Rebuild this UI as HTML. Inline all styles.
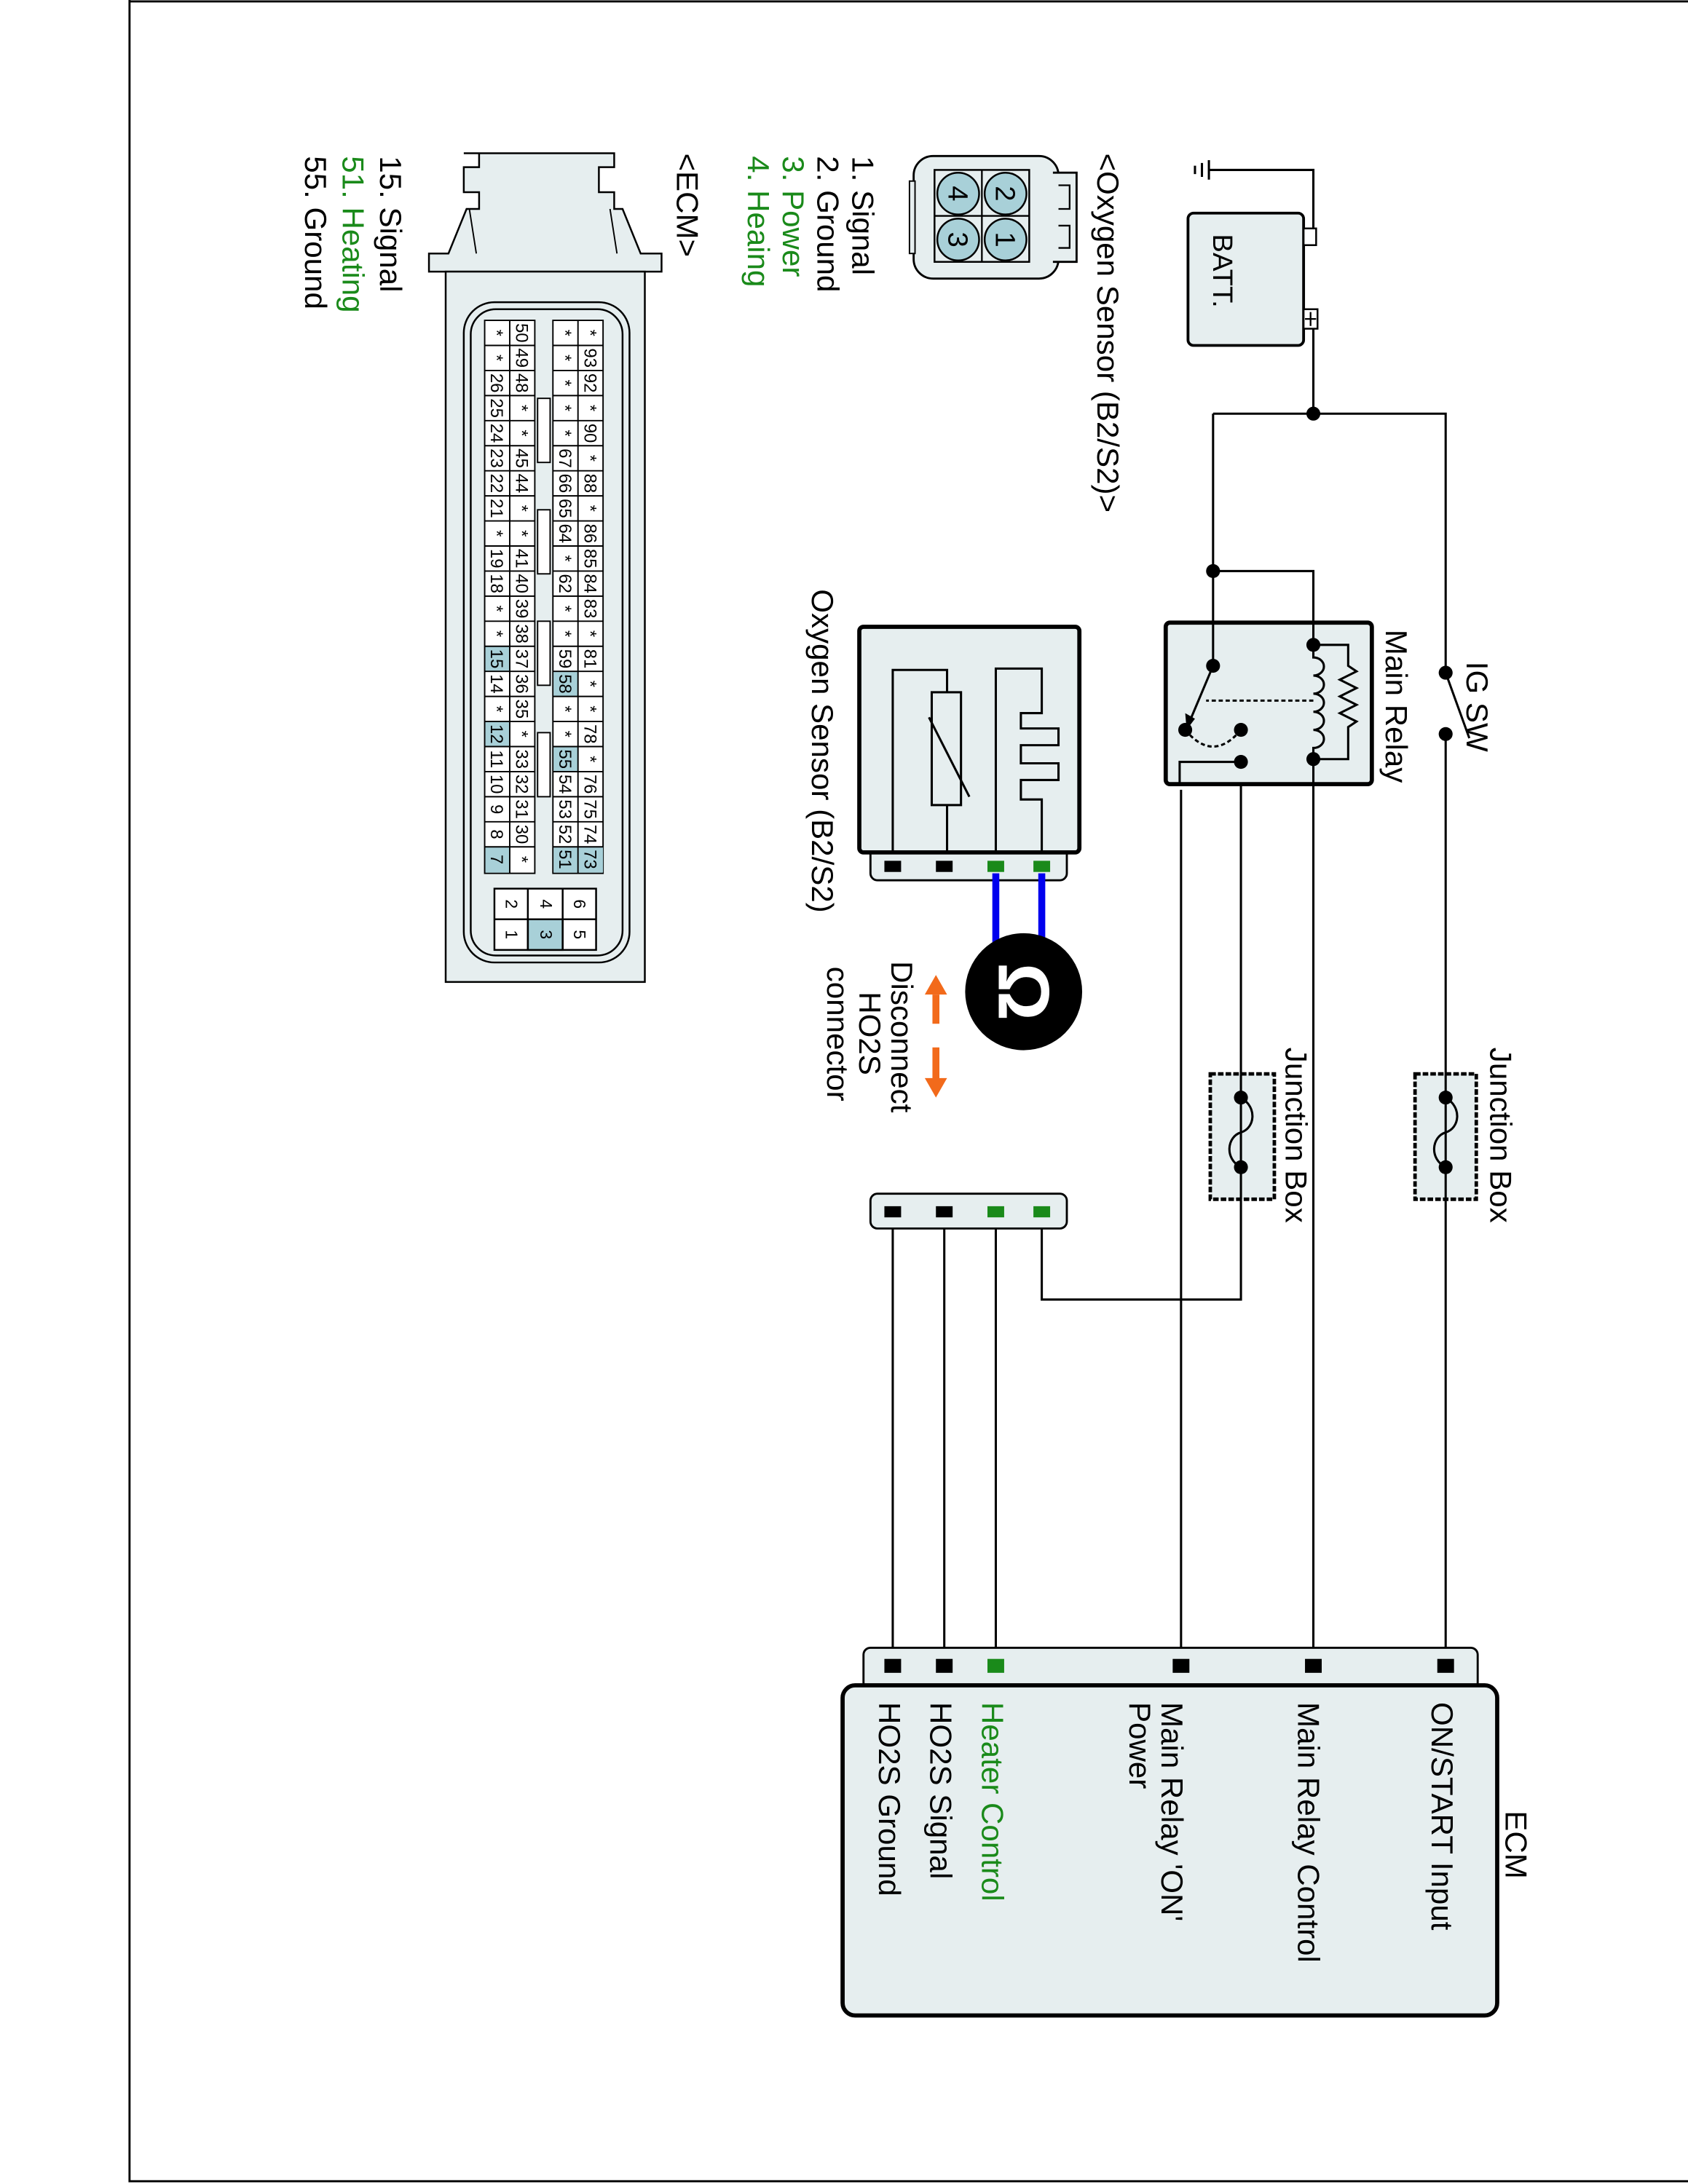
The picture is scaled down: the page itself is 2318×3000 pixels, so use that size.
<!DOCTYPE html>
<html><head><meta charset="utf-8"><style>
html,body{margin:0;padding:0;background:#fff}
svg{display:block}
text{font-family:"Liberation Sans",Arial,sans-serif}
</style></head><body>
<svg width="2318" height="3000" viewBox="0 0 1212 1568" preserveAspectRatio="none" xmlns="http://www.w3.org/2000/svg">
<rect x="0" y="0" width="1212" height="1568" fill="#fff"/>
<path d="M93,0 V1566 H1212 M93,1 H1212" fill="none" stroke="#000" stroke-width="1.5"/>

<g fill="none" stroke="#000" stroke-width="1.6">
<path d="M936,170 H943 V122 H868"/>
<path d="M868,115 V129 M863,117 V127 M858,119 V125"/>
<path d="M936,229 H943 V297"/>
<path d="M871,297 H1038 V483"/>
<path d="M1038,527 V1192"/>
<path d="M1038,483 L1055,530"/>
<path d="M871,297 V478"/>
<path d="M871,410 H943 V1192"/>
<path d="M848,567 V1192"/>
<path d="M891,524 V933 H748 V875"/>
<path d="M641,878 V1192 M678,878 V1192 M715,878 V1192"/>
</g>

<rect x="853" y="153" width="83" height="95" rx="4" fill="#e6eeef" stroke="#000" stroke-width="2"/>
<rect x="936" y="164" width="9" height="12" fill="#fff" stroke="#000" stroke-width="1.3"/>
<rect x="936" y="222" width="10" height="14" fill="#fff" stroke="#000" stroke-width="1.3"/>
<path d="M941,224 V234 M937,229 H945" stroke="#000" stroke-width="1.2"/>
<text transform="translate(871,168) rotate(90)" font-size="20">BATT.</text>
<circle cx="943" cy="297" r="5"/>
<circle cx="871" cy="410" r="5"/>

<circle cx="1038" cy="483" r="5"/><circle cx="1038" cy="527" r="5"/>
<text transform="translate(1053,475) rotate(90)" font-size="22">IG SW</text>

<rect x="837" y="447" width="148" height="116" rx="3" fill="#e6eeef" stroke="#000" stroke-width="3"/>
<text transform="translate(995,452) rotate(90)" font-size="22">Main Relay</text>
<g fill="none" stroke="#000" stroke-width="1.6">
<path d="M871,447 V478"/>
<path d="M943,447 V463"/>
<path d="M943,463 H968 V478 l6,4 l-12,6 l12,6 l-12,6 l12,6 l-12,6 l12,6 l-6,4 V545 H943"/>
<path d="M943,463 V472 a7,6 0 0 1 0,13 a7,6 0 0 1 0,13 a7,6 0 0 1 0,13 a7,6 0 0 1 0,13 a7,6 0 0 1 0,13 V545"/>
<path d="M943,503 H866" stroke-dasharray="3,2"/>
<path d="M851,524 Q871,548 891,524" stroke-dasharray="3,2"/>
<path d="M871,478 L855,516"/>
<path d="M891,547 H847 V563"/>
<path d="M943,545 V563"/>
</g>
<path d="M852,524 L851,512 L858,516 Z" fill="#000"/>
<circle cx="943" cy="463" r="5"/><circle cx="943" cy="545" r="5"/>
<circle cx="871" cy="478" r="5"/><circle cx="851" cy="524" r="5"/>
<circle cx="891" cy="524" r="5"/><circle cx="891" cy="547" r="5"/>

<rect x="1016" y="771" width="44" height="90" fill="#e6eeef" stroke="#000" stroke-width="2.5" stroke-dasharray="4,1.5"/>
<rect x="869" y="771" width="46" height="90" fill="#e6eeef" stroke="#000" stroke-width="2.5" stroke-dasharray="4,1.5"/>
<g fill="none" stroke="#000" stroke-width="1.6">
<path d="M1038,771 V861 M891,771 V861"/>
<path d="M1038,788 C1050,795 1048,810 1038,813 C1028,816 1026,832 1038,838"/>
<path d="M891,788 C903,795 901,810 891,813 C881,816 879,832 891,838"/>
</g>
<circle cx="1038" cy="788" r="5"/><circle cx="1038" cy="838" r="5"/>
<circle cx="891" cy="788" r="5"/><circle cx="891" cy="838" r="5"/>
<text transform="translate(1070,752) rotate(90)" font-size="22">Junction Box</text>
<text transform="translate(923,752) rotate(90)" font-size="22">Junction Box</text>

<rect x="625" y="605" width="141" height="27" rx="5" fill="#e6eeef" stroke="#000" stroke-width="1.5"/>
<rect x="617" y="450" width="158" height="162" rx="3" fill="#e6eeef" stroke="#000" stroke-width="3"/>
<g fill="none" stroke="#000" stroke-width="1.6">
<path d="M641,612 V481 H680 V497"/>
<rect x="669" y="497" width="21" height="81" fill="none"/>
<path d="M680,578 V612"/>
<path d="M667,515 L696,572"/>
<path d="M715,612 V480 H748 V512 H733 V523 H760 V535 H733 V548 H760 V560 H733 V574 H748 V612"/>
</g>
<rect x="635" y="618" width="12" height="8" fill="#000"/>
<rect x="672" y="618" width="12" height="8" fill="#000"/>
<rect x="709" y="618" width="12" height="8" fill="#1a8a1a"/>
<rect x="742" y="618" width="12" height="8" fill="#1a8a1a"/>
<path d="M715,627 V682 M748,627 V682" stroke="#0000ee" stroke-width="5"/>
<circle cx="735" cy="712" r="42" fill="#000"/>
<text transform="translate(717,712) rotate(90)" font-size="52" font-weight="bold" fill="#fff" text-anchor="middle">Ω</text>
<text transform="translate(583,423) rotate(90)" font-size="22">Oxygen Sensor (B2/S2)</text>
<path d="M672,714 V735 M672,752 V775" stroke="#f26a1b" stroke-width="5"/>
<path d="M672,700 L664,714 H680 Z M672,788 L664,774 H680 Z" fill="#f26a1b"/>
<text transform="translate(640,690) rotate(90)" font-size="22">Disconnect</text>
<text transform="translate(617,712) rotate(90)" font-size="22">HO2S</text>
<text transform="translate(594,694) rotate(90)" font-size="22">connector</text>

<rect x="625" y="857" width="141" height="25" rx="5" fill="#e6eeef" stroke="#000" stroke-width="1.5"/>
<rect x="635" y="866" width="12" height="8" fill="#000"/>
<rect x="672" y="866" width="12" height="8" fill="#000"/>
<rect x="709" y="866" width="12" height="8" fill="#1a8a1a"/>
<rect x="742" y="866" width="12" height="8" fill="#1a8a1a"/>

<rect x="620" y="1183" width="441" height="30" rx="5" fill="#e6eeef" stroke="#000" stroke-width="1.5"/>
<rect x="605" y="1210" width="470" height="237" rx="9" fill="#e6eeef" stroke="#000" stroke-width="3"/>
<rect x="1032" y="1191" width="12" height="10" fill="#000"/>
<rect x="937" y="1191" width="12" height="10" fill="#000"/>
<rect x="842" y="1191" width="12" height="10" fill="#000"/>
<rect x="709" y="1191" width="12" height="10" fill="#1a8a1a"/>
<rect x="672" y="1191" width="12" height="10" fill="#000"/>
<rect x="635" y="1191" width="12" height="10" fill="#000"/>
<text transform="translate(1081,1300) rotate(90)" font-size="22">ECM</text>
<text transform="translate(1028,1222) rotate(90)" font-size="22">ON/START Input</text>
<text transform="translate(932,1222) rotate(90)" font-size="22">Main Relay Control</text>
<text transform="translate(834,1222) rotate(90)" font-size="22">Main Relay 'ON'</text>
<text transform="translate(811,1222) rotate(90)" font-size="22">Power</text>
<text transform="translate(705,1222) rotate(90)" font-size="22" fill="#1a8a1a">Heater Control</text>
<text transform="translate(668,1222) rotate(90)" font-size="22">HO2S  Signal</text>
<text transform="translate(631,1222) rotate(90)" font-size="22">HO2S  Ground</text>

<text transform="translate(788,110) rotate(90)" font-size="22">&lt;Oxygen Sensor (B2/S2)&gt;</text>
<rect x="656" y="112" width="104" height="88" rx="14" fill="#e6eeef" stroke="#000" stroke-width="1.5"/>
<path d="M756,124 H773 V188 H756" fill="#e6eeef" stroke="#000" stroke-width="1.5"/>
<path d="M760,133 H768 V150 H760 M760,162 H768 V178 H760" fill="none" stroke="#000" stroke-width="1.2"/>
<rect x="653" y="130" width="4" height="52" fill="#e6eeef" stroke="#000" stroke-width="1"/>
<rect x="671" y="122" width="68" height="66" fill="#e6eeef" stroke="#000" stroke-width="1.3"/>
<path d="M705,122 V188 M671,155 H739" stroke="#000" stroke-width="1.2"/>
<g fill="#a8d0d8" stroke="#000" stroke-width="1.3">
<circle cx="722" cy="139" r="15"/><circle cx="722" cy="172" r="15"/>
<circle cx="688" cy="139" r="15"/><circle cx="688" cy="172" r="15"/>
</g>
<g font-size="20" text-anchor="middle">
<text transform="translate(715,139) rotate(90)">2</text>
<text transform="translate(715,172) rotate(90)">1</text>
<text transform="translate(681,139) rotate(90)">4</text>
<text transform="translate(681,172) rotate(90)">3</text>
</g>
<text transform="translate(612,112) rotate(90)" font-size="22">1. Signal</text>
<text transform="translate(587,112) rotate(90)" font-size="22">2. Ground</text>
<text transform="translate(562,112) rotate(90)" font-size="22" fill="#1a8a1a">3. Power</text>
<text transform="translate(537,112) rotate(90)" font-size="22" fill="#1a8a1a">4. Heaing</text>
<text transform="translate(486,110) rotate(90)" font-size="22">&lt;ECM&gt;</text>
<text transform="translate(273,112) rotate(90)" font-size="22">15. Signal</text>
<text transform="translate(246,112) rotate(90)" font-size="22" fill="#1a8a1a">51. Heating</text>
<text transform="translate(219,112) rotate(90)" font-size="22">55. Ground</text>

<g fill="#e6eeef" stroke="#000" stroke-width="1.3">
<path d="M333,110 H441 V120 H430 V138 H441 V150 H447 L460,182 H475 V195 H308 V182 H322 L335,150 H344 V138 H333 V120 H344 V110 Z" />
<rect x="320" y="195" width="143" height="510"/>
<rect x="333" y="217" width="119" height="474" rx="22"/>
<rect x="338" y="222" width="109" height="464" rx="18"/>
</g>
<path d="M337,150 L342,182 M438,150 L443,182" stroke="#000" stroke-width="1"/>
<g fill="#fff" stroke="#000">
<rect x="386" y="286" width="9" height="46"/>
<rect x="386" y="366" width="9" height="46"/>
<rect x="386" y="446" width="9" height="46"/>
<rect x="386" y="526" width="9" height="46"/>
</g>
<g stroke="#000" stroke-width="1.3" fill="#fff">
<rect x="355" y="638" width="73" height="44"/>
<rect x="379" y="660" width="25" height="22" fill="#a8d0d8"/>
<path d="M379,638 V682 M404,638 V682 M355,660 H428" fill="none"/>
</g>
<g font-size="12" text-anchor="middle">
<text transform="translate(412,649) rotate(90)">6</text>
<text transform="translate(412,671) rotate(90)">5</text>
<text transform="translate(388,649) rotate(90)">4</text>
<text transform="translate(388,671) rotate(90)">3</text>
<text transform="translate(363,649) rotate(90)">2</text>
<text transform="translate(363,671) rotate(90)">1</text>
</g>
<g stroke="#000" stroke-width="1" fill="#fff">
<rect x="348" y="230" width="36" height="397"/>
<rect x="397" y="230" width="36" height="397"/>
</g>
<g fill="#a8d0d8">
<rect x="348.5" y="464" width="17.5" height="18"/>
<rect x="348.5" y="518" width="17.5" height="18"/>
<rect x="348.5" y="608" width="17.5" height="18.5"/>
<rect x="397.5" y="482" width="17.5" height="18"/>
<rect x="397.5" y="536" width="17.5" height="18"/>
<rect x="397.5" y="608" width="17.5" height="18.5"/>
<rect x="415.5" y="608" width="17.5" height="18.5"/>
</g>
<path d="M366,230 V627 M415,230 V627 M348,248 H384 M348,266 H384 M348,284 H384 M348,302 H384 M348,320 H384 M348,338 H384 M348,356 H384 M348,374 H384 M348,392 H384 M348,410 H384 M348,428 H384 M348,446 H384 M348,464 H384 M348,482 H384 M348,500 H384 M348,518 H384 M348,536 H384 M348,554 H384 M348,572 H384 M348,590 H384 M348,608 H384 M397,248 H433 M397,266 H433 M397,284 H433 M397,302 H433 M397,320 H433 M397,338 H433 M397,356 H433 M397,374 H433 M397,392 H433 M397,410 H433 M397,428 H433 M397,446 H433 M397,464 H433 M397,482 H433 M397,500 H433 M397,518 H433 M397,536 H433 M397,554 H433 M397,572 H433 M397,590 H433 M397,608 H433" stroke="#000" stroke-width="1" fill="none"/>
<g font-size="12.5" text-anchor="middle">
<text transform="translate(352.5,239) rotate(90)">*</text><text transform="translate(352.5,257) rotate(90)">*</text><text transform="translate(352.5,275) rotate(90)">26</text><text transform="translate(352.5,293) rotate(90)">25</text><text transform="translate(352.5,311) rotate(90)">24</text><text transform="translate(352.5,329) rotate(90)">23</text><text transform="translate(352.5,347) rotate(90)">22</text><text transform="translate(352.5,365) rotate(90)">21</text><text transform="translate(352.5,383) rotate(90)">*</text><text transform="translate(352.5,401) rotate(90)">19</text><text transform="translate(352.5,419) rotate(90)">18</text><text transform="translate(352.5,437) rotate(90)">*</text><text transform="translate(352.5,455) rotate(90)">*</text><text transform="translate(352.5,473) rotate(90)">15</text><text transform="translate(352.5,491) rotate(90)">14</text><text transform="translate(352.5,509) rotate(90)">*</text><text transform="translate(352.5,527) rotate(90)">12</text><text transform="translate(352.5,545) rotate(90)">11</text><text transform="translate(352.5,563) rotate(90)">10</text><text transform="translate(352.5,581) rotate(90)">9</text><text transform="translate(352.5,599) rotate(90)">8</text><text transform="translate(352.5,617) rotate(90)">7</text>
<text transform="translate(370.5,239) rotate(90)">50</text><text transform="translate(370.5,257) rotate(90)">49</text><text transform="translate(370.5,275) rotate(90)">48</text><text transform="translate(370.5,293) rotate(90)">*</text><text transform="translate(370.5,311) rotate(90)">*</text><text transform="translate(370.5,329) rotate(90)">45</text><text transform="translate(370.5,347) rotate(90)">44</text><text transform="translate(370.5,365) rotate(90)">*</text><text transform="translate(370.5,383) rotate(90)">*</text><text transform="translate(370.5,401) rotate(90)">41</text><text transform="translate(370.5,419) rotate(90)">40</text><text transform="translate(370.5,437) rotate(90)">39</text><text transform="translate(370.5,455) rotate(90)">38</text><text transform="translate(370.5,473) rotate(90)">37</text><text transform="translate(370.5,491) rotate(90)">36</text><text transform="translate(370.5,509) rotate(90)">35</text><text transform="translate(370.5,527) rotate(90)">*</text><text transform="translate(370.5,545) rotate(90)">33</text><text transform="translate(370.5,563) rotate(90)">32</text><text transform="translate(370.5,581) rotate(90)">31</text><text transform="translate(370.5,599) rotate(90)">30</text><text transform="translate(370.5,617) rotate(90)">*</text>
<text transform="translate(401.5,239) rotate(90)">*</text><text transform="translate(401.5,257) rotate(90)">*</text><text transform="translate(401.5,275) rotate(90)">*</text><text transform="translate(401.5,293) rotate(90)">*</text><text transform="translate(401.5,311) rotate(90)">*</text><text transform="translate(401.5,329) rotate(90)">67</text><text transform="translate(401.5,347) rotate(90)">66</text><text transform="translate(401.5,365) rotate(90)">65</text><text transform="translate(401.5,383) rotate(90)">64</text><text transform="translate(401.5,401) rotate(90)">*</text><text transform="translate(401.5,419) rotate(90)">62</text><text transform="translate(401.5,437) rotate(90)">*</text><text transform="translate(401.5,455) rotate(90)">*</text><text transform="translate(401.5,473) rotate(90)">59</text><text transform="translate(401.5,491) rotate(90)">58</text><text transform="translate(401.5,509) rotate(90)">*</text><text transform="translate(401.5,527) rotate(90)">*</text><text transform="translate(401.5,545) rotate(90)">55</text><text transform="translate(401.5,563) rotate(90)">54</text><text transform="translate(401.5,581) rotate(90)">53</text><text transform="translate(401.5,599) rotate(90)">52</text><text transform="translate(401.5,617) rotate(90)">51</text>
<text transform="translate(419.5,239) rotate(90)">*</text><text transform="translate(419.5,257) rotate(90)">93</text><text transform="translate(419.5,275) rotate(90)">92</text><text transform="translate(419.5,293) rotate(90)">*</text><text transform="translate(419.5,311) rotate(90)">90</text><text transform="translate(419.5,329) rotate(90)">*</text><text transform="translate(419.5,347) rotate(90)">88</text><text transform="translate(419.5,365) rotate(90)">*</text><text transform="translate(419.5,383) rotate(90)">86</text><text transform="translate(419.5,401) rotate(90)">85</text><text transform="translate(419.5,419) rotate(90)">84</text><text transform="translate(419.5,437) rotate(90)">83</text><text transform="translate(419.5,455) rotate(90)">*</text><text transform="translate(419.5,473) rotate(90)">81</text><text transform="translate(419.5,491) rotate(90)">*</text><text transform="translate(419.5,509) rotate(90)">*</text><text transform="translate(419.5,527) rotate(90)">78</text><text transform="translate(419.5,545) rotate(90)">*</text><text transform="translate(419.5,563) rotate(90)">76</text><text transform="translate(419.5,581) rotate(90)">75</text><text transform="translate(419.5,599) rotate(90)">74</text><text transform="translate(419.5,617) rotate(90)">73</text>
</g>
</svg>
</body></html>
